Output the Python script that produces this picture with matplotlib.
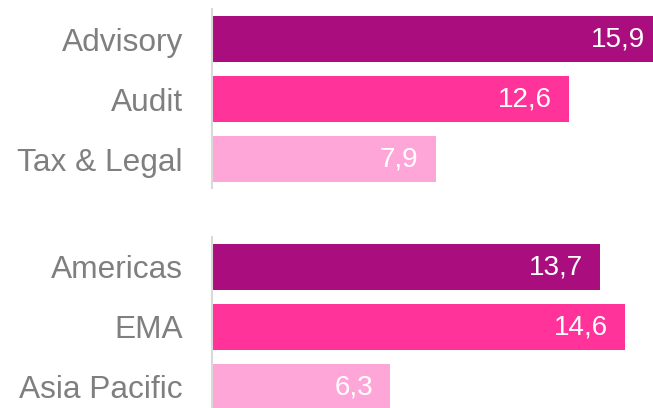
import matplotlib.pyplot as plt

plt.rcParams['font.family'] = ['Liberation Sans', 'DejaVu Sans']

# Datos
lines = ['Advisory', 'Audit', 'Tax & Legal']
lines_vals = [15.9, 12.6, 7.9]
regions = ['Americas', 'EMA', 'Asia Pacific']
regions_vals = [13.7, 14.6, 6.3]
colors = ['#AA0E7E', '#FF3399', '#FFA6D9']

fig = plt.figure(figsize=(6.53, 4.08), dpi=100)
ax1 = fig.add_axes([212/653, 1 - 188/408, 1 - 212/653, 179/408])
ax2 = fig.add_axes([212/653, 0, 1 - 212/653, 171/408])

xmax = (653 - 212) / 28.3


def draw(ax, cats, vals, ylim):
    y = range(len(cats))
    ax.barh(y, vals, height=0.767, color=colors)
    ax.set_xlim(0, xmax)
    ax.set_ylim(*ylim)
    ax.set_yticks(list(y))
    ax.set_yticklabels(cats, fontsize=22.8, color='#7F7F7F')
    ax.tick_params(axis='y', length=0, pad=21)
    ax.set_xticks([])
    for s in ['top', 'right', 'bottom']:
        ax.spines[s].set_visible(False)
    ax.spines['left'].set_color('#D9D9D9')
    ax.spines['left'].set_linewidth(1.5)
    for i, v in enumerate(vals):
        ax.text(v - 0.6, i, f'{v:.1f}'.replace('.', ','),
                ha='right', va='center', color='white', fontsize=20)


draw(ax1, lines, lines_vals, (2.48, -0.5))
draw(ax2, regions, regions_vals, (2.35, -0.5))

plt.savefig('out.png', dpi=100)
